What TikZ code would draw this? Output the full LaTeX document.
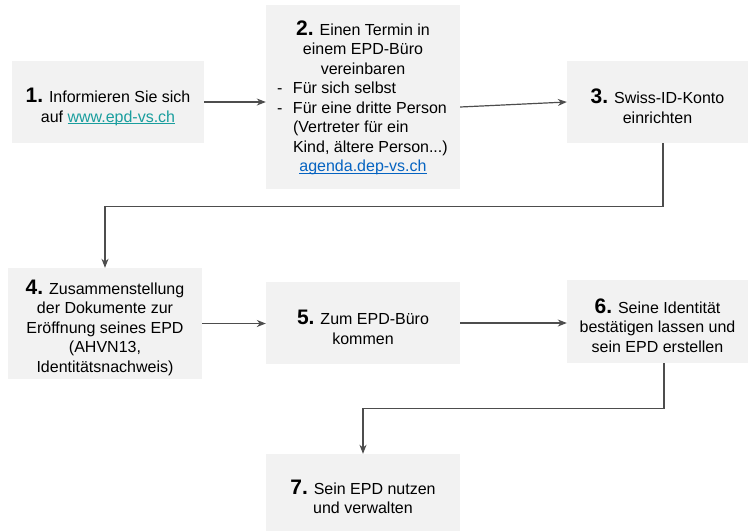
\documentclass[tikz,border=0pt]{standalone}
\usepackage{fontspec}
\setmainfont{Liberation Sans}
\usepackage{tikz}
\usepackage{xcolor}
\usetikzlibrary{arrows.meta, positioning}

\definecolor{boxgray}{HTML}{F2F2F2}
\definecolor{arrowgray}{HTML}{4D4D4D}
\definecolor{linkteal}{HTML}{1A9E9E}
\definecolor{agendablue}{HTML}{0563C1}

\newcommand{\stepnum}[2][23pt]{\rule{0pt}{#1}{\fontsize{21}{19.5}\selectfont\bfseries #2}}
\newcommand{\weblink}[2]{{\color{#1}\underline{\smash{#2}}}}
\newcommand{\listline}[2]{\makebox[172pt][l]{\makebox[16pt][l]{#1}#2}}

\begin{document}
\begin{tikzpicture}[x=1pt, y=-1pt,
    stepbox/.style={fill=boxgray, inner sep=0pt, align=center,
        font=\fontsize{16}{19.5}\selectfont},
    flow/.style={draw=arrowgray, line width=1.2pt,
        -{Stealth[length=9pt,width=7pt]}}]
\useasboundingbox (0,0) rectangle (748,531);
% Top row - steps 1 to 3
\node[stepbox, minimum width=192pt, minimum height=82pt] (s1) at (108,102)
    {\stepnum{1.} Informieren Sie sich\\ auf \weblink{linkteal}{www.epd-vs.ch}};
\node[stepbox, minimum width=194pt, minimum height=184pt] (s2) at (363,97)
    {\stepnum[0pt]{2.} Einen Termin in\\ einem EPD-Büro\\ vereinbaren\\
     \listline{-}{Für sich selbst}\\
     \listline{-}{Für eine dritte Person}\\
     \listline{}{(Vertreter für ein}\\
     \listline{}{Kind, ältere Person...)}\\
     \weblink{agendablue}{agenda.dep-vs.ch}};
\node[stepbox, minimum width=181pt, minimum height=82pt] (s3) at (657.5,102)
    {\stepnum{3.} Swiss-ID-Konto\\ einrichten};
% Middle row - steps 4 to 6
\node[stepbox, minimum width=194pt, minimum height=111pt] (s4) at (105,323.5)
    {\stepnum{4.} Zusammenstellung\\ der Dokumente zur\\ Eröffnung seines EPD\\
     (AHVN13,\\ Identitätsnachweis)};
\node[stepbox, minimum width=194pt, minimum height=82pt] (s5) at (363,323)
    {\stepnum{5.} Zum EPD-Büro\\ kommen};
\node[stepbox, minimum width=181pt, minimum height=83pt] (s6) at (657.5,321.5)
    {\stepnum{6.} Seine Identität\\ bestätigen lassen und\\ sein EPD erstellen};
% Bottom row - step 7
\node[stepbox, minimum width=194pt, minimum height=77pt] (s7) at (363,492.5)
    {\stepnum{7.} Sein EPD nutzen\\ und verwalten};
% Straight connectors
\foreach \a/\b in {s1/s2, s4/s5, s5/s6} {
    \draw[flow] (\a) -- (\a -| \b.west);
}
\draw[flow] ([yshift=-10pt]s2.east) -- (s3.west);
% Elbow connectors down to the next row
\draw[flow] ([xshift=5.5pt]s3.south) -- ++(0,63) -| (s4.north);
\draw[flow] ([xshift=6.5pt]s6.south) -- ++(0,45) -| (s7.north);
\end{tikzpicture}
\end{document}
